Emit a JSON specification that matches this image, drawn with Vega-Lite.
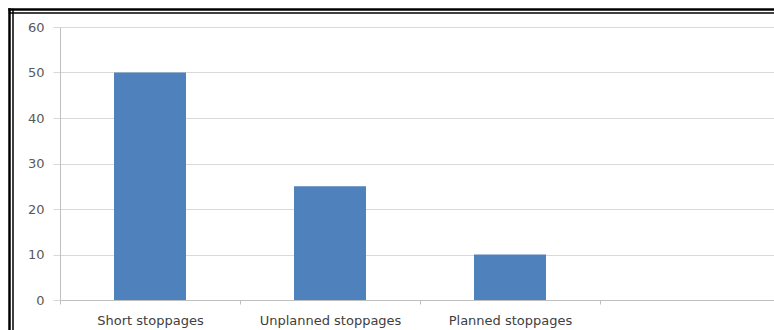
{
  "$schema": "https://vega.github.io/schema/vega-lite/v6.json",
  "width": 765,
  "height": 321,
  "autosize": {"type": "none"},
  "padding": {"left": 9, "top": 9, "right": 0, "bottom": 0},
  "background": "white",
  "config": {"view": {"stroke": null}, "font": "DejaVu Sans"},
  "data": {"values": [
    {"category": "Short stoppages", "value": 50},
    {"category": "Unplanned stoppages", "value": 25},
    {"category": "Planned stoppages", "value": 10}
  ]},
  "layer": [
    {
      "mark": {"type": "bar", "width": {"band": 0.4}, "color": "#4f81bd"},
      "encoding": {
        "x": {
          "field": "category", "type": "nominal", "sort": null,
          "scale": {"domain": ["Short stoppages", "Unplanned stoppages", "Planned stoppages", " "], "range": [51, 771], "paddingInner": 0, "paddingOuter": 0},
          "axis": {"title": null, "orient": "bottom", "offset": -30, "labelAngle": 0, "tickBand": "extent", "tickSize": 4, "tickColor": "#bfbfbf", "domainColor": "#bfbfbf", "labelFontSize": 13, "labelColor": "#404040", "labelPadding": 10, "grid": false}
        },
        "y": {
          "field": "value", "type": "quantitative",
          "scale": {"domain": [0, 60], "range": [291, 18], "nice": false},
          "axis": {"title": null, "orient": "left", "offset": -51, "values": [0, 10, 20, 30, 40, 50, 60], "tickSize": 7, "tickColor": "#d9d9d9", "domainColor": "#bfbfbf", "grid": true, "gridColor": "#d9d9d9", "labelFontSize": 13, "labelColor": "#595959", "labelPadding": 9}
        }
      }
    },
    {
      "mark": {"type": "point", "opacity": 0},
      "encoding": {
        "x": {"field": "category", "type": "nominal", "axis": {"orient": "top", "offset": 0, "domainColor": "black", "domainWidth": 2.5, "domainCap": "square", "ticks": false, "labels": false, "grid": false, "title": null}},
        "y": {"field": "value", "type": "quantitative", "axis": {"orient": "left", "offset": 0, "domainColor": "black", "domainWidth": 2.5, "domainCap": "square", "ticks": false, "labels": false, "grid": false, "title": null}}
      }
    },
    {
      "mark": {"type": "point", "opacity": 0},
      "encoding": {
        "x": {"field": "category", "type": "nominal", "axis": {"orient": "top", "offset": -3.5, "domainColor": "black", "domainWidth": 1.5, "domainCap": "square", "ticks": false, "labels": false, "grid": false, "title": null}},
        "y": {"field": "value", "type": "quantitative", "axis": {"orient": "left", "offset": -3.5, "domainColor": "black", "domainWidth": 1.5, "domainCap": "square", "ticks": false, "labels": false, "grid": false, "title": null}}
      }
    }
  ],
  "resolve": {
    "scale": {"x": "independent", "y": "independent"},
    "axis": {"x": "independent", "y": "independent"}
  }
}
